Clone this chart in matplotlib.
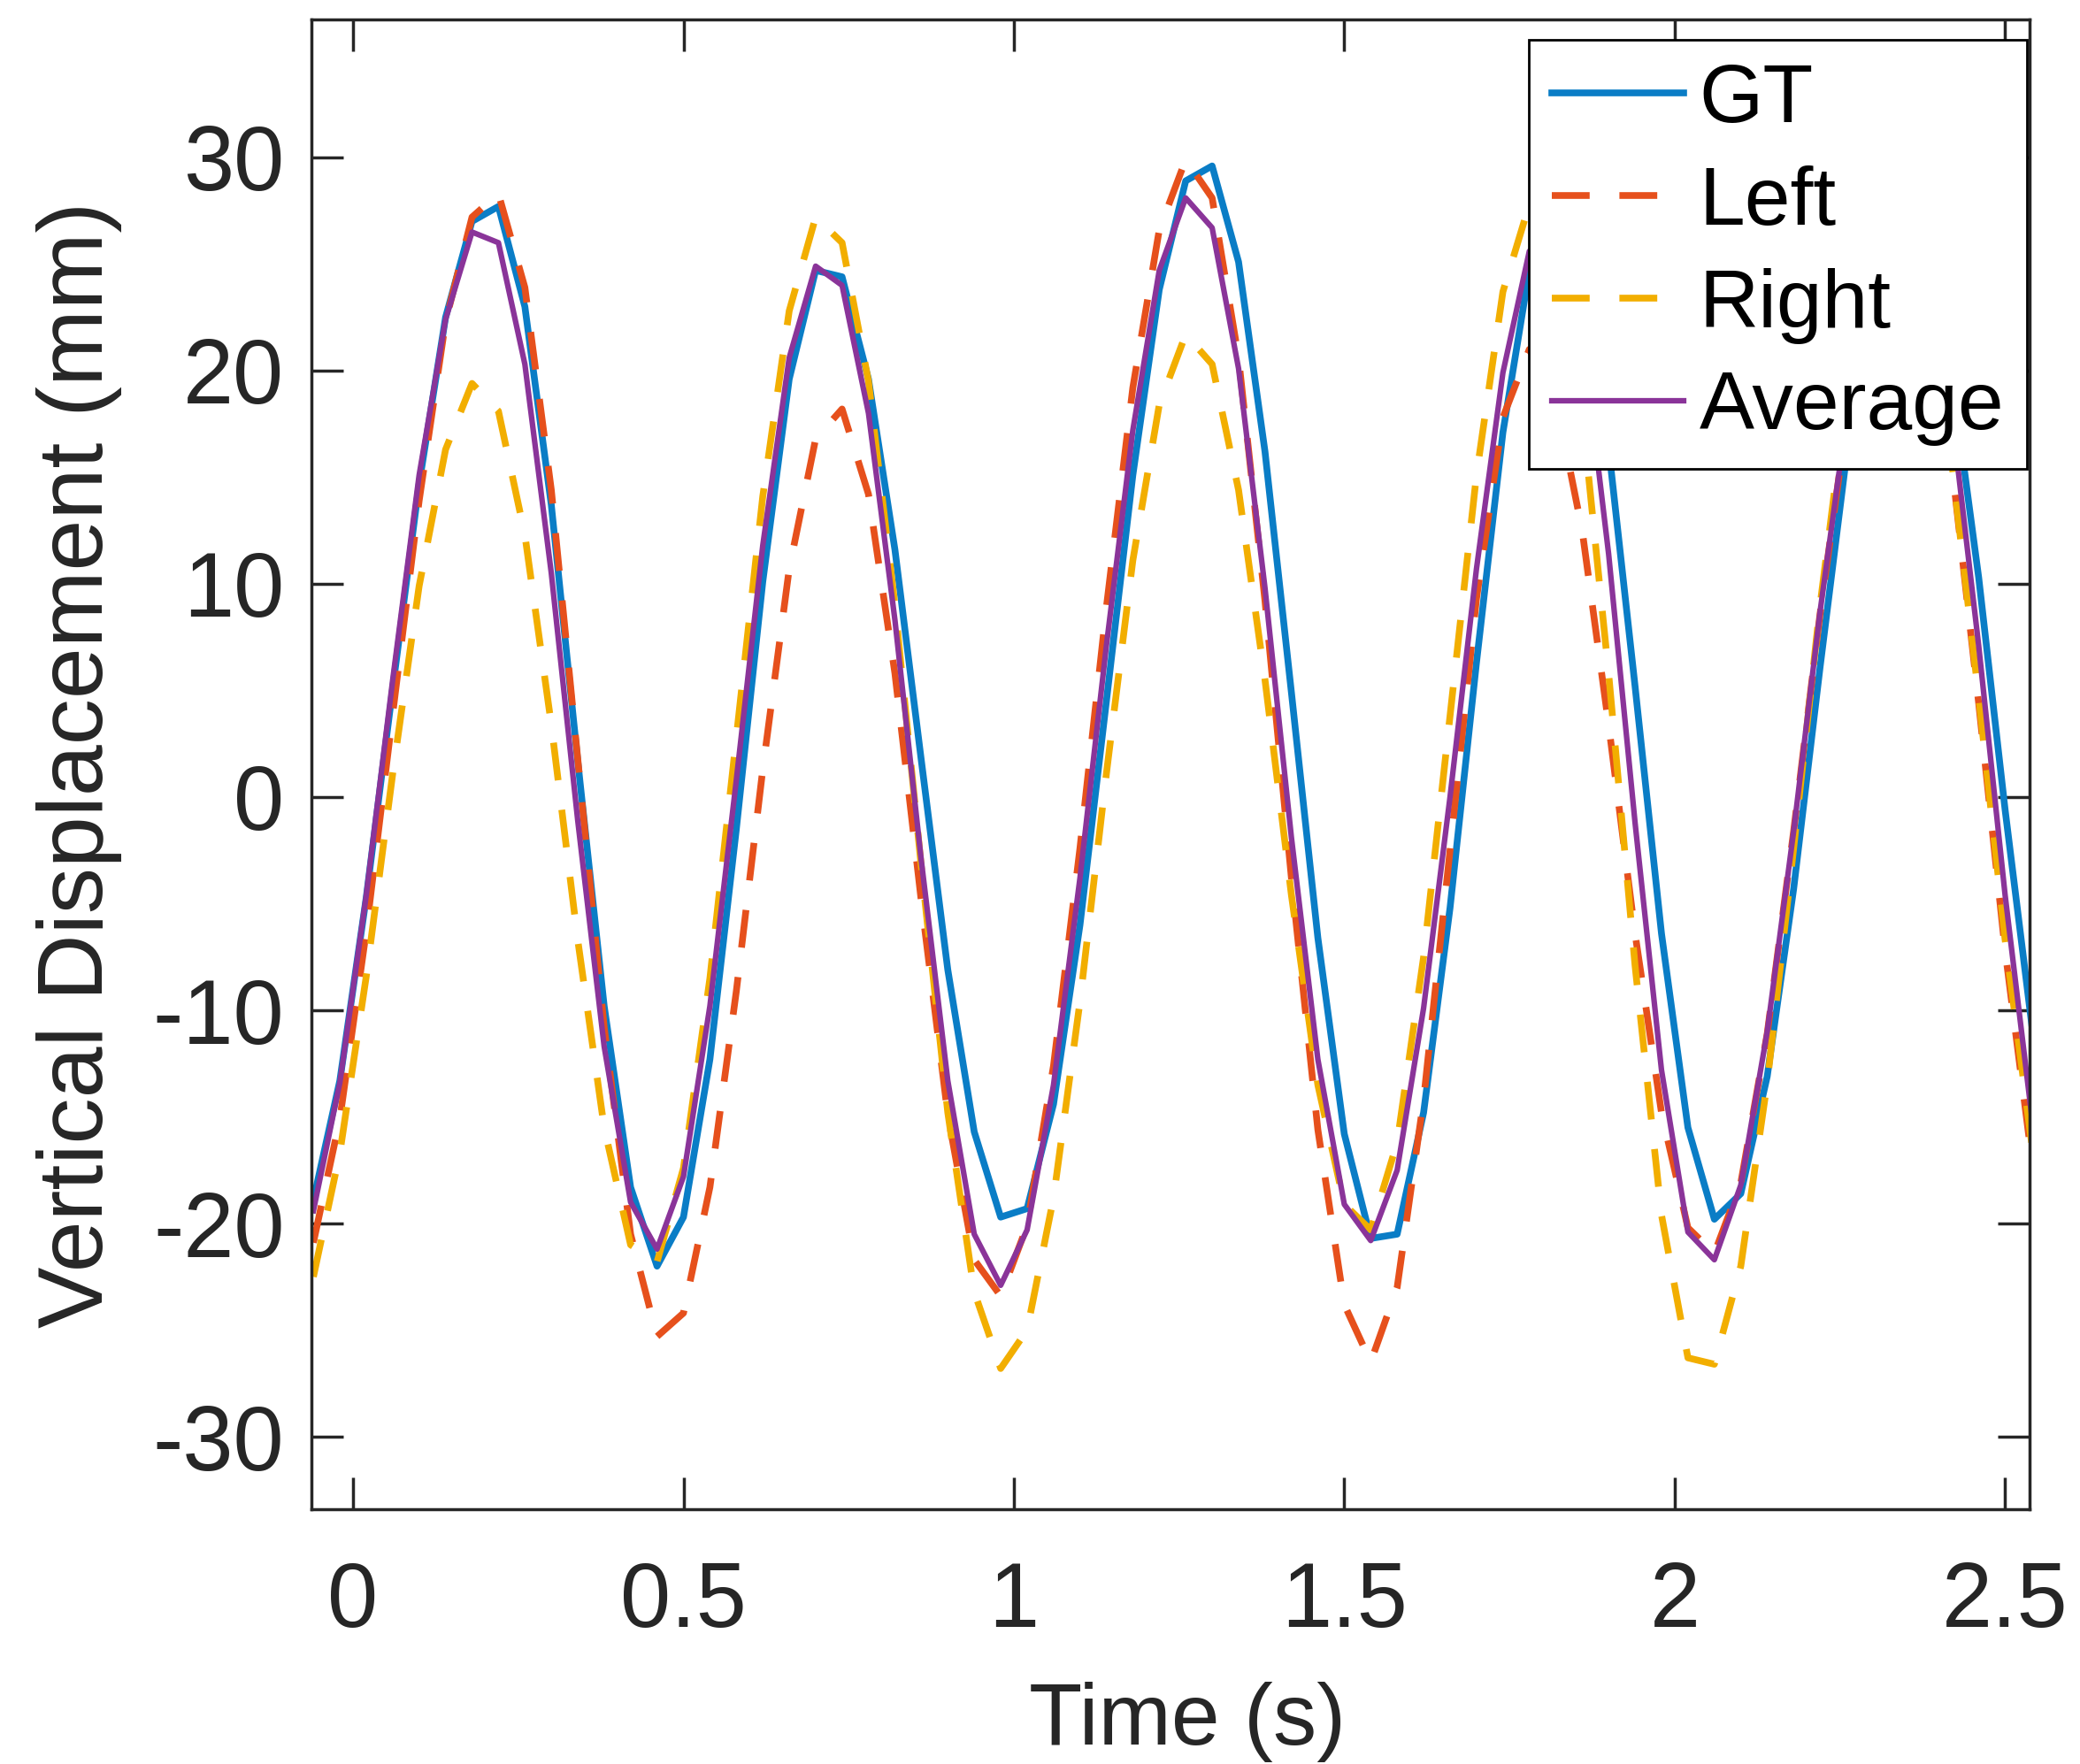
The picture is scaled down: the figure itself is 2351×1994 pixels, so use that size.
import numpy as np
import matplotlib
matplotlib.use("Agg")
import matplotlib.pyplot as plt

# Sample times (s), values every 0.04 s
time = np.linspace(-0.06, 2.54, 66)

gt = [-18.9, -13.3, -4.7, 5.1, 14.7, 22.5, 27.0, 27.7, 23.0, 13.7, 1.7, -9.8,
      -18.3, -22.0, -19.7, -12.3, -1.5, 10.1, 19.6, 24.7, 24.4, 19.6, 11.6, 1.7,
      -8.1, -15.7, -19.7, -19.3, -14.4, -6.0, 4.5, 15.1, 23.8, 28.9, 29.6, 25.1,
      16.2, 4.9, -6.6, -15.8, -20.7, -20.5, -14.8, -5.2, 6.3, 17.1, 24.7, 27.5,
      24.6, 16.4, 5.2, -6.4, -15.5, -19.8, -18.6, -13.1, -4.3, 6.1, 16.0, 23.3,
      26.9, 25.6, 19.6, 10.3, -0.6, -10.6]

left = [-20.9, -15.1, -6.3, 3.9, 13.9, 22.3, 27.2, 28.3, 23.9, 14.4, 1.8, -10.8,
        -20.5, -25.3, -24.2, -18.3, -9.1, 1.3, 10.7, 16.8, 18.2, 14.2, 5.8, -4.9,
        -14.9, -21.7, -23.4, -20.1, -12.6, -2.4, 8.9, 19.2, 26.6, 29.9, 28.1, 20.6,
        9.2, -3.8, -15.6, -23.8, -26.5, -23.0, -14.2, -2.5, 9.3, 17.8, 21.0, 18.7,
        12.5, 3.4, -6.4, -14.8, -20.2, -21.4, -18.1, -11.1, -1.6, 8.6, 17.6, 23.9,
        26.0, 23.2, 15.4, 4.4, -7.2, -16.9]

right = [-22.5, -16.7, -8.4, 1.1, 9.9, 16.3, 19.4, 18.1, 12.3, 3.4, -6.7, -15.5,
         -21.0, -21.8, -17.4, -8.5, 2.8, 14.1, 22.8, 27.2, 26.0, 19.5, 9.0, -3.3,
         -14.8, -23.2, -26.8, -25.0, -18.8, -9.6, 1.1, 11.1, 18.4, 21.7, 20.3, 14.4,
         5.5, -4.6, -13.5, -19.1, -20.3, -16.2, -7.5, 3.8, 15.1, 23.7, 27.8, 26.1,
         18.0, 5.8, -7.9, -19.6, -26.3, -26.6, -22.0, -13.4, -2.4, 9.0, 18.8, 25.2,
         27.0, 23.6, 15.5, 4.7, -6.7, -16.2]

average = [-19.4, -13.4, -4.6, 5.5, 15.1, 22.4, 26.5, 26.0, 20.3, 10.5, -1.1, -11.7,
           -19.0, -21.2, -17.8, -9.8, 0.8, 11.8, 20.6, 24.9, 24.0, 18.0, 8.3, -3.0,
           -13.3, -20.5, -22.9, -20.3, -13.5, -3.8, 7.1, 17.2, 24.7, 28.1, 26.7, 20.1,
           9.8, -1.9, -12.3, -19.1, -20.8, -17.5, -9.9, 0.0, 10.7, 19.9, 25.6, 26.8,
           21.8, 11.4, -1.2, -12.8, -20.4, -21.7, -18.2, -11.0, -1.6, 8.7, 17.8, 24.3,
           27.0, 24.8, 17.7, 7.1, -4.6, -14.9]

x_ticks = [0, 0.5, 1, 1.5, 2, 2.5]
x_tick_labels = ["0", "0.5", "1", "1.5", "2", "2.5"]
y_ticks = [-30, -20, -10, 0, 10, 20, 30]

plt.rcParams["font.family"] = ["Liberation Sans", "DejaVu Sans"]
plt.rcParams["axes.unicode_minus"] = False

W, H = 2351, 1994
fig = plt.figure(figsize=(W / 100, H / 100), dpi=100)
ax = fig.add_axes([352 / W, 1 - 1706 / H, (2294 - 352) / W, (1706 - 22) / H])

dash = (0, (5.6, 4.4))
common = dict(solid_joinstyle="round", dash_joinstyle="round")
ax.plot(time, gt, color="#0a7dc6", lw=5.5, label="GT", **common)
ax.plot(time, left, color="#e6501c", lw=5.5, ls=dash, label="Left", **common)
ax.plot(time, right, color="#f2ae00", lw=5.5, ls=dash, label="Right", **common)
ax.plot(time, average, color="#8a3499", lw=4.5, label="Average", **common)

ax.set_xlim(-0.063, 2.537)
ax.set_ylim(-33.4, 36.47)
ax.set_xticks(x_ticks)
ax.set_xticklabels(x_tick_labels)
ax.set_yticks(y_ticks)

axis_col = "#262626"
for sp in ax.spines.values():
    sp.set_color(axis_col)
    sp.set_linewidth(2.5)
ax.tick_params(axis="both", direction="in", top=True, right=True,
               length=26, width=2.5, color=axis_col, labelcolor=axis_col,
               labelsize=74)
ax.tick_params(axis="x", pad=42)
ax.tick_params(axis="y", pad=22)

ax.set_xlabel("Time (s)", fontsize=71, color=axis_col)
ax.xaxis.set_label_coords(0.51, -0.143)
ax.xaxis.label.set_va("center")
ax.set_ylabel("Vertical Displacement (mm)", fontsize=75, color=axis_col)
ax.yaxis.set_label_coords(-0.135, 0.5)
ax.yaxis.label.set_va("center")

leg = ax.legend(loc="upper right", bbox_to_anchor=(2291 / W, 1 - 45 / H),
                bbox_transform=fig.transFigure, borderaxespad=0, fontsize=67,
                frameon=True, fancybox=False, edgecolor="black", framealpha=1,
                handlelength=1.6, handletextpad=0.19, labelspacing=0.32,
                borderpad=0.28)
leg.get_frame().set_linewidth(2.0)

fig.savefig("out.png", dpi=100)
